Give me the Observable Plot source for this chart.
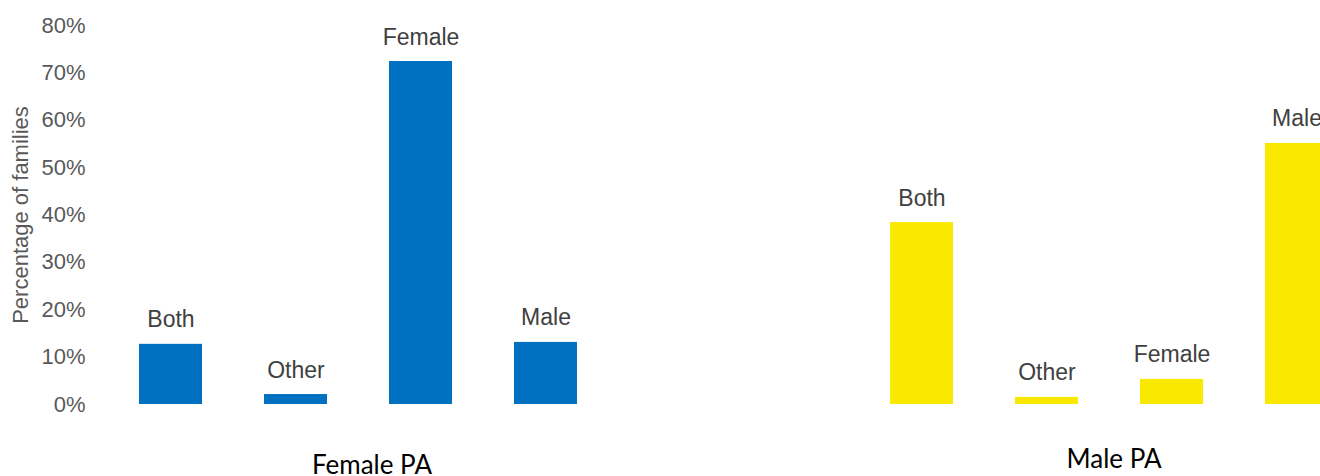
<!DOCTYPE html>
<html>
<head>
<meta charset="utf-8">
<script src="https://cdn.jsdelivr.net/npm/d3@7"></script>
<script src="https://cdn.jsdelivr.net/npm/@observablehq/plot@0.6"></script>
<style>
  html, body { margin: 0; padding: 0; background: #fff; overflow: hidden; }
  #chart svg { overflow: hidden; }
</style>
</head>
<body>
<div id="chart"></div>
<script>
const groups = ["Female PA", "Male PA"];
const categories = ["Both", "Other", "Female", "Male"];
const femalePA = [0.127, 0.021, 0.724, 0.131];
const malePA = [0.384, 0.015, 0.053, 0.551];
const yTicks = [0, 0.1, 0.2, 0.3, 0.4, 0.5, 0.6, 0.7, 0.8];
const groupColors = ["#0070C0", "#F9E900"];

const rows = [
  ...categories.map((c, i) => ({pa: groups[0], cat: c, value: femalePA[i]})),
  ...categories.map((c, i) => ({pa: groups[1], cat: c, value: malePA[i]}))
];

const sans = "'Liberation Sans', Arial, sans-serif";
const groupFont = "Lato, 'Open Sans', sans-serif";

const chart = Plot.plot({
  width: 1320,
  height: 476,
  marginTop: 25,
  marginBottom: 72,
  marginLeft: 88,
  marginRight: 0,
  style: {fontFamily: sans, background: "#fff"},
  fx: {domain: groups, range: [88, 1378.3], paddingInner: 0.2828, paddingOuter: 0, axis: null},
  x: {domain: categories, paddingInner: 0.5, paddingOuter: 0.4017, axis: null},
  y: {domain: [0, 0.8], axis: null},
  color: {domain: groups, range: groupColors},
  marks: [
    Plot.barY(rows, {fx: "pa", x: "cat", y: "value", fill: "pa"}),
    Plot.text(rows, {fx: "pa", x: "cat", y: "value", text: "cat", lineAnchor: "bottom", dy: -17,
      fontSize: 23, fill: "#404040", fontFamily: sans}),
    Plot.axisY({ticks: yTicks, tickFormat: d3.format(".0%"), tickSize: 0, tickPadding: 3,
      fontSize: 22, color: "#595959", fill: "#595959",
      label: "Percentage of families", labelAnchor: "center", labelOffset: 76, labelArrow: "none"}),
    Plot.text([groups[0]], {fx: d => d, text: d => d, frameAnchor: "bottom", lineAnchor: "bottom",
      dy: 69, dx: 14, fontSize: 26, fill: "#000", fontFamily: groupFont}),
    Plot.text([groups[1]], {fx: d => d, text: d => d, frameAnchor: "bottom", lineAnchor: "bottom",
      dy: 63, dx: 5, fontSize: 26, fill: "#000", fontFamily: groupFont})
  ]
});
document.getElementById("chart").appendChild(chart);
</script>
</body>
</html>
